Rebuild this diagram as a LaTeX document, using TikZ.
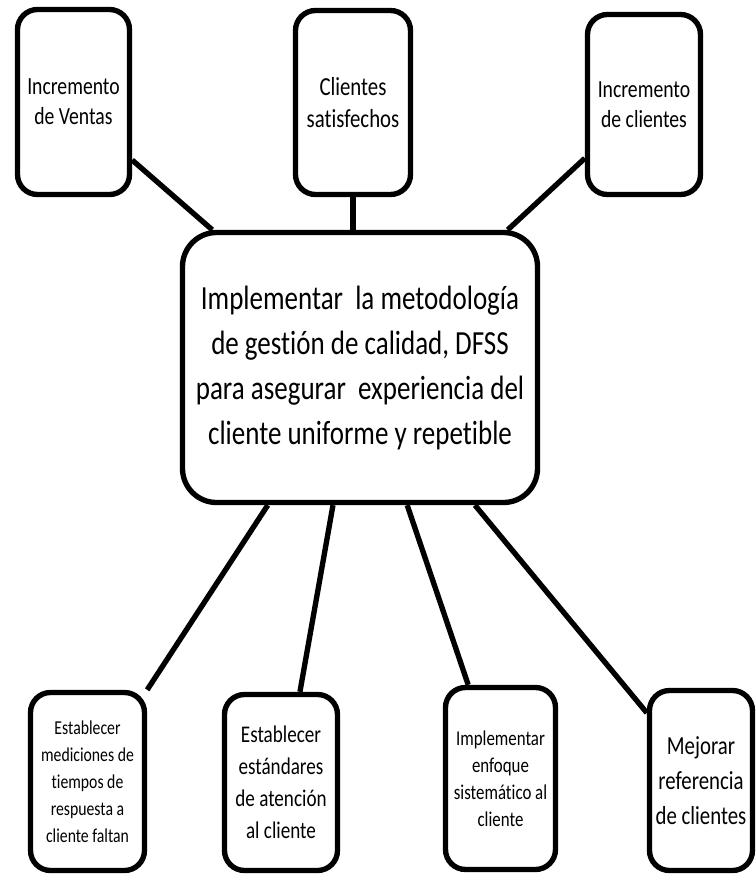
\documentclass[tikz,border=0pt]{standalone}
\usepackage{fontspec}
\setmainfont[FakeStretch=0.8,Ligatures=NoCommon]{Carlito}
\usetikzlibrary{calc,backgrounds}
\begin{document}
\begin{tikzpicture}[x=0.025cm,y=-0.025cm]
	\tikzset{box/.style={draw,line width=3.8pt,rounded corners=0.5cm,fill=white,align=center,inner sep=2pt},
		link/.style={line width=3.8pt}}
	\def\px{0.025cm}
	\def\fs#1#2{\fontsize{#1}{#2}\selectfont}
	\useasboundingbox (0,0) rectangle (756,875);
	\node[box,font=\fs{17.5}{21.3},minimum width=112*\px,minimum height=185*\px] (A) at (73.5,102) {Incremento\\de Ventas};
	\node[box,font=\fs{18.5}{23},minimum width=115*\px,minimum height=184*\px] (B) at (353,102.5) {Clientes\\satisfechos};
	\node[box,font=\fs{17.5}{21.3},minimum width=113*\px,minimum height=180*\px] (C) at (644,104.5) {Incremento\\de clientes};
	\node[box,font=\fs{24}{32},rounded corners=0.85cm,minimum width=355*\px,minimum height=270*\px] (M) at (360,367.5)
		{Implementar\ \ la metodología\\de gestión de calidad, DFSS\\para asegurar\ \ experiencia del\\cliente uniforme y repetible};
	\node[box,font=\fs{14}{19.2},minimum width=114*\px,minimum height=178*\px] (D) at (87.5,781.5)
		{Establecer\\mediciones de\\tiempos de\\respuesta a\\cliente faltan};
	\node[box,font=\fs{17}{22.8},minimum width=113*\px,minimum height=176*\px] (E) at (281,782.5)
		{Establecer\\estándares\\de atención\\al cliente};
	\node[box,font=\fs{15}{19.2},minimum width=110*\px,minimum height=182*\px] (F) at (500.5,778.5)
		{Implementar\\enfoque\\sistemático al\\cliente};
	\node[box,font=\fs{18.5}{25},minimum width=103*\px,minimum height=180*\px] (G) at (701,780.5)
		{Mejorar\\referencia\\de clientes};
	\begin{scope}[on background layer]
		\draw[link] ($(A.north east)!0.805!(A.south east)$) -- ($(M.north west)!0.09!(M.north east)$);
		\draw[link] (B.south) -- (B.south |- M.north);
		\draw[link] ($(C.north west)!0.79!(C.south west)$) -- ($(M.north west)!0.91!(M.north east)$);
		\draw[link] ($(M.south west)!0.244!(M.south east)$) -- (D.north east);
		\draw[link] ($(M.south west)!0.425!(M.south east)$) -- ($(E.north west)!0.66!(E.north east)$);
		\draw[link] ($(M.south west)!0.631!(M.south east)$) -- ($(F.north west)!0.22!(F.north east)$);
		\draw[link] ($(M.south west)!0.819!(M.south east)$) -- ($(G.north west)!0.135!(G.south west)$);
	\end{scope}
\end{tikzpicture}
\end{document}
